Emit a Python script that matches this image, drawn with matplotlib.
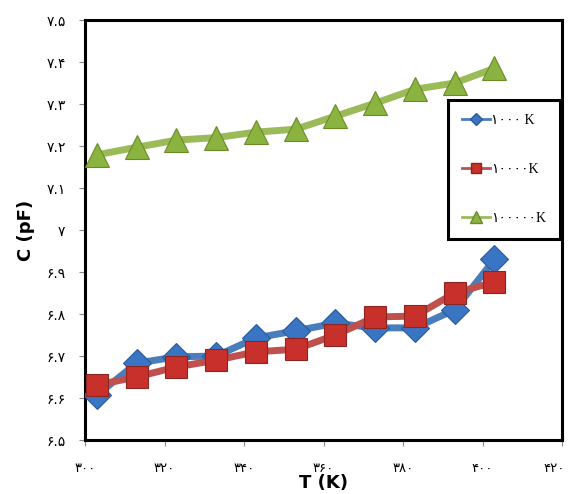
import matplotlib
matplotlib.use("Agg")
import matplotlib.pyplot as plt
import matplotlib.transforms as mtransforms
from matplotlib.lines import Line2D

plt.rcParams['font.family'] = ['DejaVu Sans']

T = [303, 313, 323, 333, 343, 353, 363, 373, 383, 393, 403]
c_1k = [6.607, 6.683, 6.698, 6.700, 6.743, 6.760, 6.778, 6.767, 6.767, 6.810, 6.930]
c_10k = [6.631, 6.650, 6.674, 6.690, 6.710, 6.716, 6.750, 6.793, 6.795, 6.850, 6.876]
c_100k = [7.179, 7.197, 7.214, 7.220, 7.233, 7.240, 7.271, 7.302, 7.335, 7.350, 7.385]

labels = ["\u06f1\u06f0\u06f0\u06f0 K", "\u06f1\u06f0\u06f0\u06f0\u06f0K", "\u06f1\u06f0\u06f0\u06f0\u06f0\u06f0K"]

xticks = [300, 320, 340, 360, 380, 400, 420]
xticklabels = ["\u06f3\u06f0\u06f0", "\u06f3\u06f2\u06f0", "\u06f3\u06f4\u06f0", "\u06f3\u06f6\u06f0",
               "\u06f3\u06f8\u06f0", "\u06f4\u06f0\u06f0", "\u06f4\u06f2\u06f0"]
yticks = [6.5, 6.6, 6.7, 6.8, 6.9, 7.0, 7.1, 7.2, 7.3, 7.4, 7.5]
yticklabels = ["\u06f6.\u06f5", "\u06f6.\u06f6", "\u06f6.\u06f7", "\u06f6.\u06f8", "\u06f6.\u06f9", "\u06f7",
               "\u06f7.\u06f1", "\u06f7.\u06f2", "\u06f7.\u06f3", "\u06f7.\u06f4", "\u06f7.\u06f5"]

fig = plt.figure(figsize=(5.69, 4.94), dpi=100)
ax = fig.add_axes([0.1494, 0.1093, 0.8383, 0.8502])

ax.plot(T, c_1k, color='#4a7ebb', lw=5, marker='D', ms=14, mfc='#3a75c4',
        mec='#2a5a9a', mew=0.8, zorder=3)
ax.plot(T, c_10k, color='#c0504d', lw=5, marker='s', ms=16, mfc='#c8302b',
        mec='#8c2420', mew=0.8, zorder=4)
ax.plot(T, c_100k, color='#9bbb59', lw=5, marker='^', ms=17, mfc='#8ab43f',
        mec='#6a8a2a', mew=0.8, zorder=3)

ax.set_xlim(300, 420)
ax.set_ylim(6.5, 7.5)
ax.set_xticks(xticks)
ax.set_xticklabels(xticklabels, fontsize=9.5)
ax.set_yticks(yticks)
ax.set_yticklabels(yticklabels, fontsize=10)
ax.tick_params(axis='both', direction='out', length=4, color='#888888', width=0.8)
ax.tick_params(axis='x', pad=12)
ax.tick_params(axis='y', pad=10)
for s in ax.spines.values():
    s.set_linewidth(2.2)
    s.set_color('black')

# nudge the last x tick label inward so it stays inside the figure
last = ax.get_xticklabels()[-1]
last.set_transform(last.get_transform() + mtransforms.ScaledTranslation(-6 / 72, 0, fig.dpi_scale_trans))

ax.set_xlabel("T (K)", fontsize=13, fontweight='bold', labelpad=-1)
ax.set_ylabel("C (pF)", fontsize=13, fontweight='bold', labelpad=8)

handles = [
    Line2D([], [], color='#4a7ebb', lw=2, marker='D', ms=6, mfc='#3a75c4', mec='#2a5a9a'),
    Line2D([], [], color='#c0504d', lw=2, marker='s', ms=7, mfc='#c8302b', mec='#8c2420'),
    Line2D([], [], color='#9bbb59', lw=2, marker='^', ms=8, mfc='#8ab43f', mec='#6a8a2a'),
]
leg = ax.legend(handles, labels, loc='upper left', bbox_to_anchor=(0.761, 0.81),
                frameon=True, fancybox=False, edgecolor='black', framealpha=1,
                labelspacing=2.6, handlelength=2.0, handletextpad=0.1,
                borderpad=1.0, borderaxespad=0,
                prop={'family': ['Liberation Serif', 'DejaVu Sans'], 'size': 10})
leg.get_frame().set_linewidth(2.2)

fig.savefig("out.png", dpi=100)
